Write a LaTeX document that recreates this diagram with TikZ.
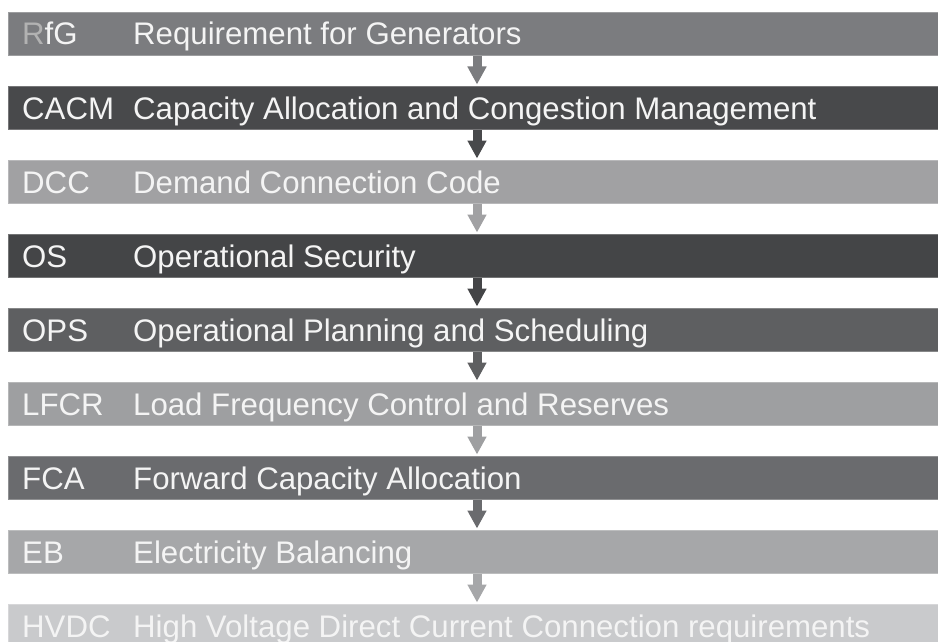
\documentclass[tikz,border=0pt]{standalone}
\usepackage{fontspec}
\setmainfont{Liberation Sans}
\usetikzlibrary{arrows.meta}
% bar fills, top to bottom
\definecolor{cRfG}{HTML}{7B7C7F}
\definecolor{cCACM}{HTML}{48494B}
\definecolor{cDCC}{HTML}{A1A1A3}
\definecolor{cOS}{HTML}{444547}
\definecolor{cOPS}{HTML}{5E5F61}
\definecolor{cLFCR}{HTML}{9E9FA1}
\definecolor{cFCA}{HTML}{6A6B6E}
\definecolor{cEB}{HTML}{A6A7A9}
\definecolor{cHVDC}{HTML}{C9CACC}
\definecolor{txt}{HTML}{F4F4F4}
\begin{document}
\begin{tikzpicture}[x=1pt,y=-1pt,
  bar/.style={rectangle, draw=#1!75!white, line width=0.8pt, fill=#1,
    minimum width=934pt, minimum height=43pt, inner sep=0pt, anchor=north west},
  label/.style={text=txt, font=\fontsize{31.2}{33}\selectfont, anchor=base west, inner sep=0pt},
  flow/.style={draw=#1, line width=9pt, -{Triangle[width=18pt,length=18pt]}, shorten >=1.5pt}]
\useasboundingbox (0,0) rectangle (938,642);
\fill[white] (0,0) rectangle (938,642);
\coordinate (ax) at (477,0);

% bars
\node[bar=cRfG]  (b0) at (8,12)  {};
\node[bar=cCACM] (b1) at (8,86)  {};
\node[bar=cDCC]  (b2) at (8,160) {};
\node[bar=cOS]   (b3) at (8,234) {};
\node[bar=cOPS]  (b4) at (8,308) {};
\node[bar=cLFCR] (b5) at (8,382) {};
\node[bar=cFCA]  (b6) at (8,456) {};
\node[bar=cEB]   (b7) at (8,530) {};
\node[bar=cHVDC] (b8) at (8,604) {};

% abbreviations
\node[label] (a0) at (22,45)  {\textcolor{white!70!black}{R}fG};
\node[label] (a1) at (22,119) {CACM};
\node[label] (a2) at (22,193) {DCC};
\node[label] (a3) at (22,267) {OS};
\node[label] (a4) at (22,341) {OPS};
\node[label] (a5) at (22,415) {LFCR};
\node[label] (a6) at (22,489) {FCA};
\node[label] (a7) at (22,563) {EB};
\node[label] (a8) at (22,637) {HVDC};

% full names
\node[label] (n0) at (133,45)  {Requirement for Generators};
\node[label] (n1) at (133,119) {Capacity Allocation and Congestion Management};
\node[label] (n2) at (133,193) {Demand Connection Code};
\node[label] (n3) at (133,267) {Operational Security};
\node[label] (n4) at (133,341) {Operational Planning and Scheduling};
\node[label] (n5) at (133,415) {Load Frequency Control and Reserves};
\node[label] (n6) at (133,489) {Forward Capacity Allocation};
\node[label] (n7) at (133,563) {Electricity Balancing};
\node[label] (n8) at (133,637) {High Voltage Direct Current Connection requirements};

% arrows between consecutive codes
\draw[flow=cRfG]  (b0.south -| ax) -- (b1.north -| ax);
\draw[flow=cCACM] (b1.south -| ax) -- (b2.north -| ax);
\draw[flow=cDCC]  (b2.south -| ax) -- (b3.north -| ax);
\draw[flow=cOS]   (b3.south -| ax) -- (b4.north -| ax);
\draw[flow=cOPS]  (b4.south -| ax) -- (b5.north -| ax);
\draw[flow=cLFCR] (b5.south -| ax) -- (b6.north -| ax);
\draw[flow=cFCA]  (b6.south -| ax) -- (b7.north -| ax);
\draw[flow=cEB]   (b7.south -| ax) -- (b8.north -| ax);
\end{tikzpicture}
\end{document}
